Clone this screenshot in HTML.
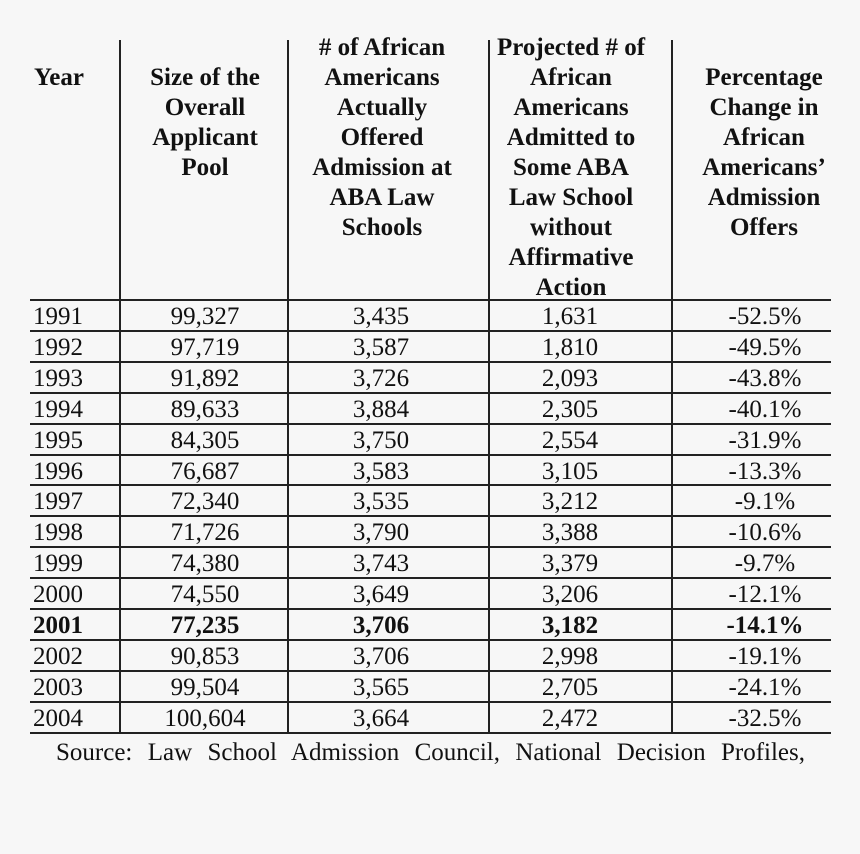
<!DOCTYPE html>
<html><head><meta charset="utf-8"><style>
body{margin:0;width:860px;height:854px;background:#f7f7f7;position:relative;overflow:hidden;font-family:"Liberation Serif","Times New Roman",Times,serif;color:#111}
.v{position:absolute;width:2px;background:#222;top:40px;height:694px}
.h{position:absolute;left:30px;width:801px;height:2px;background:#222}
.t{position:absolute;font-size:25px;line-height:30px;white-space:nowrap;transform:translateX(-50%);text-align:center}
.hd{position:absolute;font-size:25px;line-height:30px;font-weight:bold;text-align:center;transform:translateX(-50%);white-space:nowrap}
</style></head><body>
<div>
<div class="v" style="left:119px"></div>
<div class="v" style="left:287px"></div>
<div class="v" style="left:488px"></div>
<div class="v" style="left:671px"></div>
<div class="hd" style="left:59px;top:63px">Year</div>
<div class="hd" style="left:205px;top:63px">Size of the<br>Overall<br>Applicant<br>Pool</div>
<div class="hd" style="left:382px;top:33px"># of African<br>Americans<br>Actually<br>Offered<br>Admission at<br>ABA Law<br>Schools</div>
<div class="hd" style="left:571px;top:33px">Projected # of<br>African<br>Americans<br>Admitted to<br>Some ABA<br>Law School<br>without<br>Affirmative<br>Action</div>
<div class="hd" style="left:764px;top:63px">Percentage<br>Change in<br>African<br>Americans’<br>Admission<br>Offers</div>
<div id="rows"></div>
<div style="position:absolute;left:56px;top:738px;width:749px;font-size:25px;line-height:30px;text-align:justify;text-align-last:justify">Source: Law School Admission Council, National Decision Profiles,</div>
</div>
<script>
const years=["1991","1992","1993","1994","1995","1996","1997","1998","1999","2000","2001","2002","2003","2004"];
const pool=["99,327","97,719","91,892","89,633","84,305","76,687","72,340","71,726","74,380","74,550","77,235","90,853","99,504","100,604"];
const offered=["3,435","3,587","3,726","3,884","3,750","3,583","3,535","3,790","3,743","3,649","3,706","3,706","3,565","3,664"];
const projected=["1,631","1,810","2,093","2,305","2,554","3,105","3,212","3,388","3,379","3,206","3,182","2,998","2,705","2,472"];
const change=["-52.5%","-49.5%","-43.8%","-40.1%","-31.9%","-13.3%","-9.1%","-10.6%","-9.7%","-12.1%","-14.1%","-19.1%","-24.1%","-32.5%"];
const root=document.getElementById('rows');
const top0=300,rh=30.9;
function line(y){const d=document.createElement('div');d.className='h';d.style.top=(y-1)+'px';


root.appendChild(d);}
line(top0);
years.forEach((y,i)=>{
 const ty=top0+i*rh+2;
 const cols=[[y,33],[pool[i],205],[offered[i],381],[projected[i],570],[change[i],765]];
 cols.forEach((c,j)=>{
  const d=document.createElement('div');d.className='t';d.textContent=c[0];
  d.style.top=ty+'px';
  if(j===0){d.style.left='33px';d.style.transform='none';}else d.style.left=c[1]+'px';
  if(y==='2001')d.style.fontWeight='bold';
  
  
  root.appendChild(d);
 });
 line(top0+(i+1)*rh);
});
</script>
</body></html>
